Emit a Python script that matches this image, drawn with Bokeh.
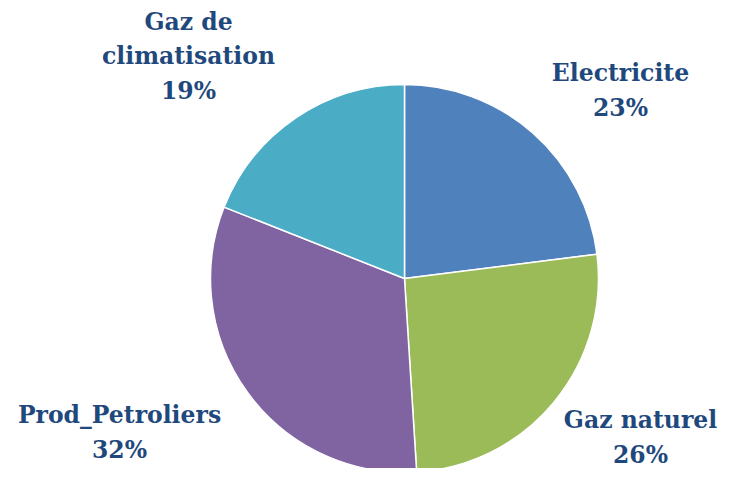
import math
from bokeh.plotting import figure
from bokeh.models import ColumnDataSource
from bokeh.core.properties import value
from bokeh.embed import file_html
from bokeh.resources import INLINE

categories = ["Electricite", "Gaz naturel", "Prod_Petroliers", "Gaz de climatisation"]
percents = [23, 26, 32, 19]
colors = ["#4F81BD", "#9BBB59", "#8064A2", "#4BACC6"]
label_texts = ["Electricite\n23%", "Gaz naturel\n26%", "Prod_Petroliers\n32%", "Gaz de\nclimatisation\n19%"]

W, H = 718, 468
total = sum(percents)
starts, ends = [], []
cum = 0.0
for v in percents:
    starts.append(math.radians(90 - cum / total * 360))
    cum += v
    ends.append(math.radians(90 - cum / total * 360))

src = ColumnDataSource(dict(cat=categories, val=percents, color=colors, start=starts, end=ends))

p = figure(width=W, height=H, x_range=(0, W), y_range=(0, H), output_backend="svg",
           toolbar_location=None, min_border=0)
p.axis.visible = False
p.grid.visible = False
p.outline_line_color = None
p.background_fill_color = "white"

cx, cy, r = 404, 190, 194
p.wedge(x=cx, y=cy, radius=r, start_angle="start", end_angle="end", direction="clock",
        fill_color="color", line_color="white", line_width=1.5, source=src)

lx = [620, 640, 119, 188]
ly = [378, 31, 36, 412]
lsrc = ColumnDataSource(dict(x=lx, y=ly, t=label_texts))
p.text(x="x", y="y", text="t", source=lsrc, text_align="center", text_baseline="middle",
       text_font=value("DejaVu Serif"), text_font_style="bold", text_font_size="23.5px",
       text_color="#1F497D", text_line_height=1.22)

open("out.html", "w").write(file_html(p, INLINE))
